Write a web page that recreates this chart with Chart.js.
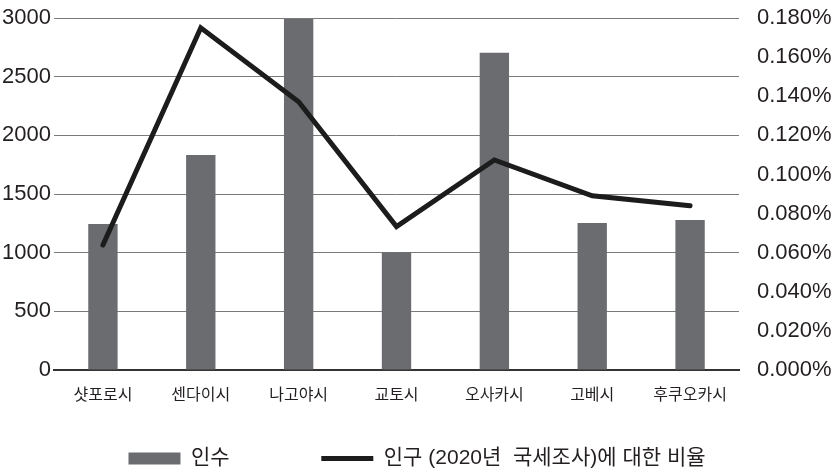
<!DOCTYPE html>
<html>
<head>
<meta charset="utf-8">
<script src="https://cdn.jsdelivr.net/npm/chart.js@4"></script>
<style>
    html, body { margin: 0; padding: 0; background: #ffffff; }
    #wrap { width: 834px; height: 472px; }
</style>
</head>
<body>
<div id="wrap"><canvas id="cityChart"></canvas></div>
<script>
// Data
const cities = ['샷포로시', '센다이시', '나고야시', '교토시', '오사카시', '고베시', '후쿠오카시'];
const countValues = [1244, 1832, 2991, 1003, 2704, 1253, 1278];
const ratioValues = [0.0639, 0.1750, 0.1372, 0.0733, 0.1074, 0.0891, 0.0840];  // percent
const countTicks = [0, 500, 1000, 1500, 2000, 2500, 3000];
const ratioTicks = [0, 0.02, 0.04, 0.06, 0.08, 0.10, 0.12, 0.14, 0.16, 0.18];

const FONT = '"Liberation Sans", "Noto Sans CJK KR", sans-serif';
const textColor = '#231f20';

new Chart(document.getElementById('cityChart'), {
    data: {
        labels: cities,
        datasets: [{
            type: 'bar',
            label: '인수',
            data: countValues,
            backgroundColor: '#6b6c70',
            borderWidth: 0,
            barPercentage: 0.3,
            categoryPercentage: 1,
            pointStyle: 'rect',
            yAxisID: 'y',
            order: 1
        }, {
            type: 'line',
            label: '인구 (2020년  국세조사)에 대한 비율',
            data: ratioValues,
            borderColor: '#1c1c1c',
            backgroundColor: '#1c1c1c',
            borderWidth: 5,
            borderCapStyle: 'round',
            borderJoinStyle: 'miter',
            pointRadius: 0,
            pointStyle: 'line',
            tension: 0,
            yAxisID: 'y1',
            order: 0
        }]
    },
    options: {
        responsive: true,
        maintainAspectRatio: false,
        animation: false,
        layout: { padding: { top: 18, left: 0, right: 0, bottom: 0 } },
        plugins: {
            tooltip: { enabled: false },
            legend: {
                position: 'bottom',
                maxHeight: 34,
                labels: {
                    font: { family: FONT, size: 21 },
                    color: textColor,
                    usePointStyle: true,
                    pointStyleWidth: 52,
                    boxHeight: 12,
                    padding: 10,
                    sort: function(a, b) { return a.datasetIndex - b.datasetIndex; },
                    generateLabels: function(chart) {
                        const items = Chart.defaults.plugins.legend.labels.generateLabels(chart);
                        items.forEach(function(item) {
                            // widen the gap after the first entry
                            if (item.datasetIndex === 0) item.text = item.text + ' '.repeat(14);
                        });
                        return items;
                    }
                }
            }
        },
        scales: {
            x: {
                grid: { display: false, drawTicks: false },
                border: { display: true, color: '#333333', width: 2 },
                ticks: {
                    font: { family: FONT, size: 16 },
                    color: textColor,
                    padding: 16,
                    maxRotation: 0
                },
                afterFit: function(scale) { scale.height = 68; }
            },
            y: {
                position: 'left',
                min: 0,
                max: 3000,
                afterBuildTicks: function(scale) {
                    scale.ticks = countTicks.map(function(v) { return { value: v }; });
                },
                grid: { color: '#7a7a7a', lineWidth: 1, drawTicks: false },
                border: { display: false },
                ticks: {
                    font: { family: FONT, size: 22 },
                    color: textColor,
                    padding: 3,
                    callback: function(value) { return String(value); }
                },
                afterFit: function(scale) {
                    scale.width = 54;
                    scale.paddingTop = 0;
                    scale.paddingBottom = 0;
                }
            },
            y1: {
                position: 'right',
                min: 0,
                max: 0.18,
                afterBuildTicks: function(scale) {
                    scale.ticks = ratioTicks.map(function(v) { return { value: v }; });
                },
                grid: { display: false, drawTicks: false },
                border: { display: false },
                ticks: {
                    font: { family: FONT, size: 22 },
                    color: textColor,
                    padding: 18,
                    callback: function(value) { return value.toFixed(3) + '%'; }
                },
                afterFit: function(scale) {
                    scale.width = 95;
                    scale.paddingTop = 0;
                    scale.paddingBottom = 0;
                }
            }
        }
    }
});
</script>
</body>
</html>
